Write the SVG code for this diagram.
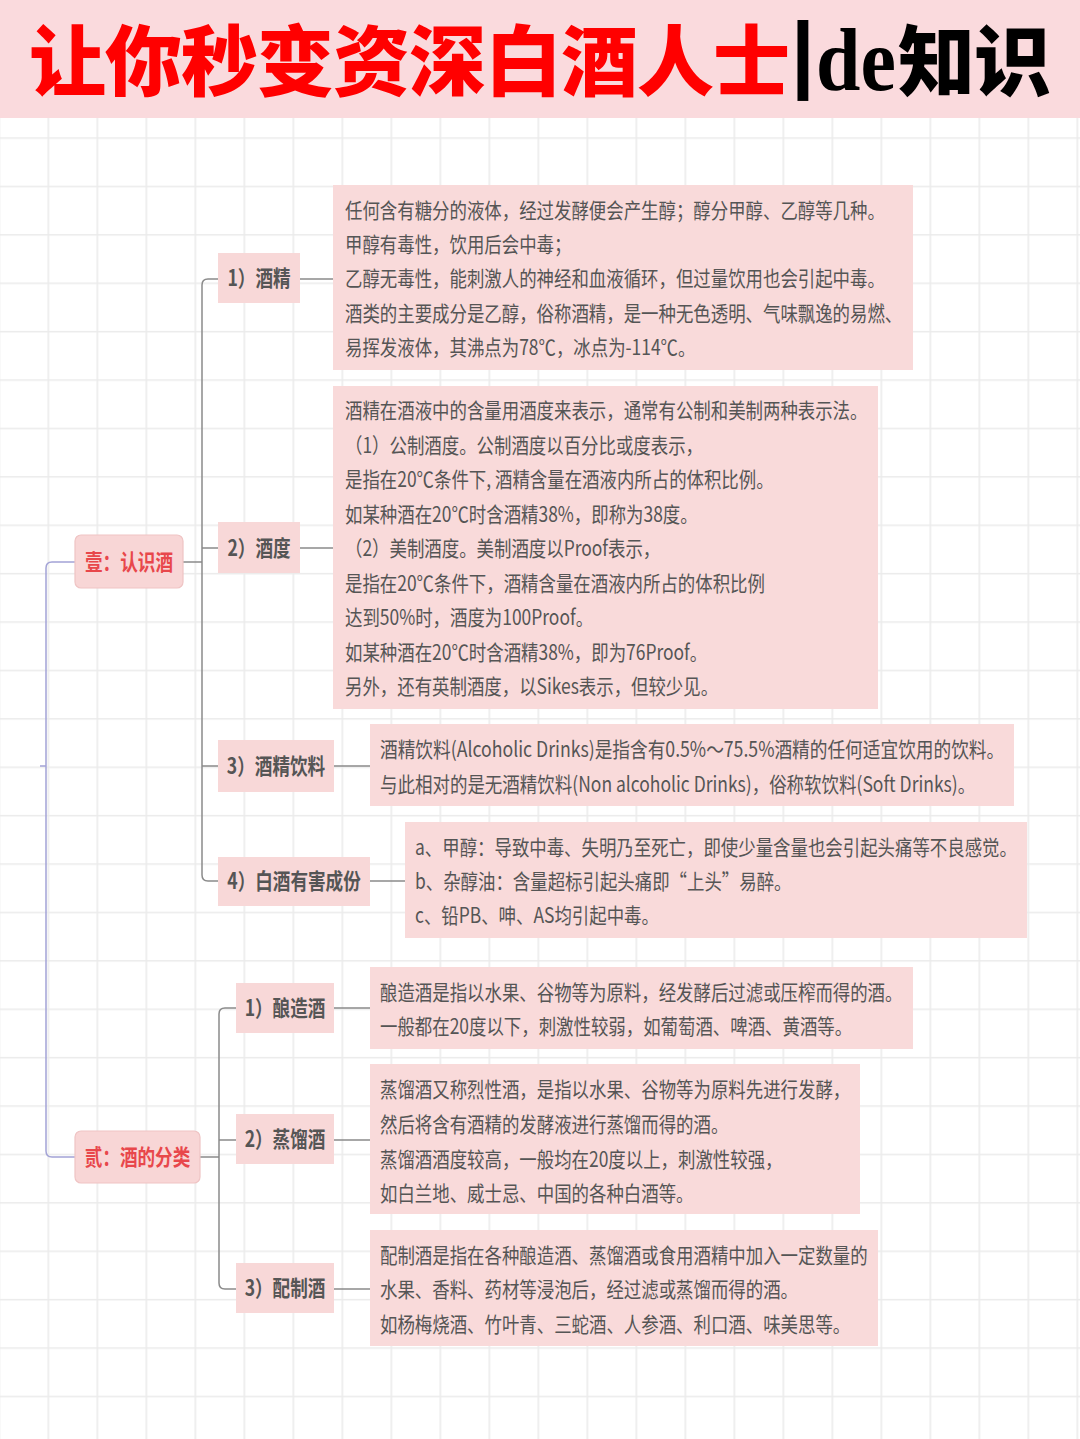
<svg xmlns="http://www.w3.org/2000/svg" width="1080" height="1439" viewBox="0 0 1080 1439">
<defs>
<style>
.t{font-family:"Noto Sans CJK SC","Noto Sans",sans-serif;}
.body{font-size:21px;fill:#555555;}
.lbl{font-size:22px;fill:#555555;font-weight:700;text-anchor:middle;}
.root{font-size:22px;fill:#e8474b;font-weight:700;text-anchor:middle;}
.box{fill:#f9dada;}
.n2{fill:#f8d8d8;}
.n1{fill:#f8d6d6;stroke:#efc4c4;stroke-width:1.2;}
.c{fill:none;stroke:#8a8a8a;stroke-width:1.5;}
.cr{fill:none;stroke:#a3a3d6;stroke-width:1.5;}
.ttl{font-family:"Noto Sans CJK SC",sans-serif;font-size:77px;font-weight:900;letter-spacing:-1px;}
</style>
<pattern id="grid" x="47.5" y="185.7" width="49" height="48.4" patternUnits="userSpaceOnUse">
<path d="M0.8,0 V48.4 M0,0.8 H49" stroke="#ebebeb" stroke-width="1.6" fill="none"/>
</pattern>
</defs>
<rect x="0" y="0" width="1080" height="1439" fill="#ffffff"/>
<rect x="0" y="118" width="1080" height="1321" fill="url(#grid)"/>
<g id="header">
<rect x="0" y="0" width="1080" height="118" fill="#fadadd"/>
<text class="ttl" x="29" y="90" fill="#ff0000">让你秒变资深白酒人士</text>
<text x="791" y="82" font-family="Liberation Sans, sans-serif" font-weight="700" font-size="85" fill="#000">|</text>
<g transform="translate(816,90) scale(1.05,1.18)"><text x="0" y="0" font-family="Liberation Serif, serif" font-weight="700" font-size="76" fill="#000">de</text></g>
<text class="ttl" x="898" y="90" fill="#000">知识</text>
</g>
<g id="connectors">
<path class="cr" d="M75,562 H52 Q46,562 46,568 V1151 Q46,1157 52,1157 H75 M40,766 H46"/>
<path class="c" d="M183,562 H202 M218,279 H208 Q202,279 202,285 V875 Q202,881 208,881 H218 M202,548 H218 M202,766 H218"/>
<path class="c" d="M300,279 H333 M300,548 H333 M334,766 H370 M370,881 H405"/>
<path class="c" d="M200,1157 H219 M236,1008 H225 Q219,1008 219,1014 V1283 Q219,1289 225,1289 H236 M219,1140 H236"/>
<path class="c" d="M334,1008 H370 M334,1140 H370 M334,1289 H370"/>
</g>
<g id="node-yi">
<rect class="n1" x="75" y="535" width="108" height="53" rx="6"/>
<g transform="translate(129,570) scale(0.8,1)"><text class="t root" x="0" y="0">壹：认识酒</text></g>
</g>
<g id="node-er">
<rect class="n1" x="75" y="1131" width="125" height="52" rx="6"/>
<g transform="translate(137.5,1165) scale(0.8,1)"><text class="t root" x="0" y="0">贰：酒的分类</text></g>
</g>
<g id="node-jiujing">
<rect class="n2" x="218" y="253" width="82" height="50"/>
<g transform="translate(259,286) scale(0.8,1)"><text class="t lbl" x="0" y="0">1）酒精</text></g>
</g>
<g id="node-jiudu">
<rect class="n2" x="218" y="522" width="82" height="51"/>
<g transform="translate(259,556) scale(0.8,1)"><text class="t lbl" x="0" y="0">2）酒度</text></g>
</g>
<g id="node-yinliao">
<rect class="n2" x="218" y="740" width="116" height="52"/>
<g transform="translate(276,774) scale(0.8,1)"><text class="t lbl" x="0" y="0">3）酒精饮料</text></g>
</g>
<g id="node-youhai">
<rect class="n2" x="218" y="857" width="152" height="49"/>
<g transform="translate(294,889) scale(0.8,1)"><text class="t lbl" x="0" y="0">4）白酒有害成份</text></g>
</g>
<g id="node-niangzao">
<rect class="n2" x="236" y="983" width="98" height="50"/>
<g transform="translate(285,1016) scale(0.8,1)"><text class="t lbl" x="0" y="0">1）酿造酒</text></g>
</g>
<g id="node-zhengliu">
<rect class="n2" x="236" y="1114" width="98" height="50"/>
<g transform="translate(285,1147) scale(0.8,1)"><text class="t lbl" x="0" y="0">2）蒸馏酒</text></g>
</g>
<g id="node-peizhi">
<rect class="n2" x="236" y="1263" width="98" height="50"/>
<g transform="translate(285,1296) scale(0.8,1)"><text class="t lbl" x="0" y="0">3）配制酒</text></g>
</g>
<g id="box-jiujing">
<rect class="box" x="333" y="185" width="580" height="185"/>
<g transform="translate(345,0) scale(0.83,1)">
<text class="t body" x="0" y="218.5">任何含有糖分的液体，经过发酵便会产生醇；醇分甲醇、乙醇等几种。</text>
<text class="t body" x="0" y="252.5">甲醇有毒性，饮用后会中毒；</text>
<text class="t body" x="0" y="286.5">乙醇无毒性，能刺激人的神经和血液循环，但过量饮用也会引起中毒。</text>
<text class="t body" x="0" y="321">酒类的主要成分是乙醇，俗称酒精，是一种无色透明、气味飘逸的易燃、</text>
<text class="t body" x="0" y="355.5">易挥发液体，其沸点为78℃，冰点为-114℃。</text>
</g>
</g>
<g id="box-jiudu">
<rect class="box" x="333" y="386" width="545" height="323"/>
<g transform="translate(345,0) scale(0.83,1)">
<text class="t body" x="0" y="418.5">酒精在酒液中的含量用酒度来表示，通常有公制和美制两种表示法。</text>
<text class="t body" x="0" y="453">（1）公制酒度。公制酒度以百分比或度表示，</text>
<text class="t body" x="0" y="487.5">是指在20℃条件下, 酒精含量在酒液内所占的体积比例。</text>
<text class="t body" x="0" y="522">如某种酒在20℃时含酒精38%，即称为38度。</text>
<text class="t body" x="0" y="556.5">（2）美制酒度。美制酒度以Proof表示，</text>
<text class="t body" x="0" y="591">是指在20℃条件下，酒精含量在酒液内所占的体积比例</text>
<text class="t body" x="0" y="625.5">达到50%时，酒度为100Proof。</text>
<text class="t body" x="0" y="660">如某种酒在20℃时含酒精38%，即为76Proof。</text>
<text class="t body" x="0" y="694.5">另外，还有英制酒度，以Sikes表示，但较少见。</text>
</g>
</g>
<g id="box-yinliao">
<rect class="box" x="370" y="724" width="644" height="82"/>
<g transform="translate(380,0) scale(0.83,1)">
<text class="t body" x="0" y="757.5" textLength="752" lengthAdjust="spacingAndGlyphs">酒精饮料(Alcoholic Drinks)是指含有0.5%～75.5%酒精的任何适宜饮用的饮料。</text>
<text class="t body" x="0" y="792" textLength="717" lengthAdjust="spacingAndGlyphs">与此相对的是无酒精饮料(Non alcoholic Drinks)，俗称软饮料(Soft Drinks)。</text>
</g>
</g>
<g id="box-youhai">
<rect class="box" x="405" y="822" width="622" height="116"/>
<g transform="translate(415,0) scale(0.83,1)">
<text class="t body" x="0" y="855.5">a、甲醇：导致中毒、失明乃至死亡，即使少量含量也会引起头痛等不良感觉。</text>
<text class="t body" x="0" y="889.5">b、杂醇油：含量超标引起头痛即“上头”易醉。</text>
<text class="t body" x="0" y="923.5">c、铅PB、呻、AS均引起中毒。</text>
</g>
</g>
<g id="box-niangzao">
<rect class="box" x="370" y="967" width="543" height="82"/>
<g transform="translate(380,0) scale(0.83,1)">
<text class="t body" x="0" y="1000.5">酿造酒是指以水果、谷物等为原料，经发酵后过滤或压榨而得的酒。</text>
<text class="t body" x="0" y="1034.5">一般都在20度以下，刺激性较弱，如葡萄酒、啤酒、黄酒等。</text>
</g>
</g>
<g id="box-zhengliu">
<rect class="box" x="370" y="1064" width="490" height="150"/>
<g transform="translate(380,0) scale(0.83,1)">
<text class="t body" x="0" y="1097.5">蒸馏酒又称烈性酒，是指以水果、谷物等为原料先进行发酵，</text>
<text class="t body" x="0" y="1132.5">然后将含有酒精的发酵液进行蒸馏而得的酒。</text>
<text class="t body" x="0" y="1167">蒸馏酒酒度较高，一般均在20度以上，刺激性较强，</text>
<text class="t body" x="0" y="1201.5">如白兰地、威士忌、中国的各种白酒等。</text>
</g>
</g>
<g id="box-peizhi">
<rect class="box" x="370" y="1230" width="508" height="116"/>
<g transform="translate(380,0) scale(0.83,1)">
<text class="t body" x="0" y="1263.5">配制酒是指在各种酿造酒、蒸馏酒或食用酒精中加入一定数量的</text>
<text class="t body" x="0" y="1297.5">水果、香料、药材等浸泡后，经过滤或蒸馏而得的酒。</text>
<text class="t body" x="0" y="1332">如杨梅烧酒、竹叶青、三蛇酒、人参酒、利口酒、味美思等。</text>
</g>
</g>
</svg>
